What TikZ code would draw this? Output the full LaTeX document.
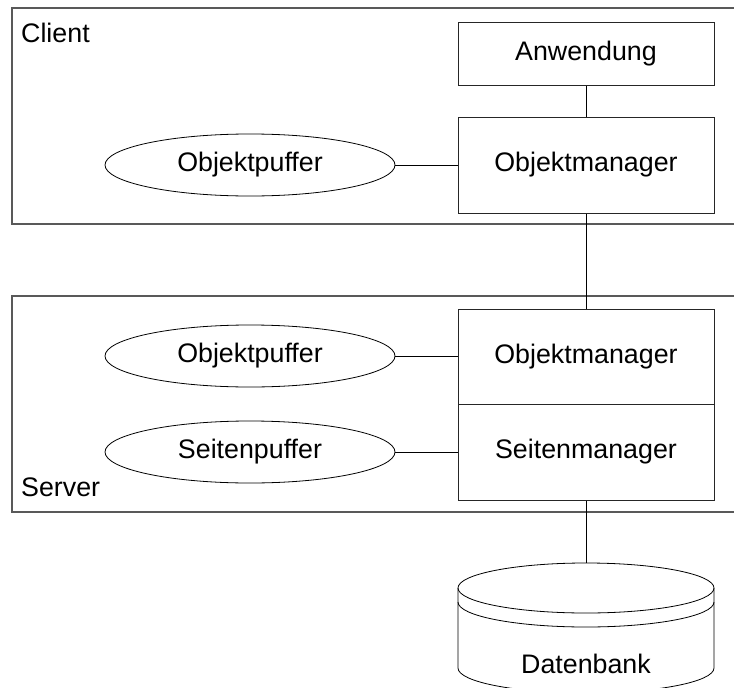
\documentclass[tikz,border=0pt]{standalone}
\usepackage{fontspec}
\setmainfont{Liberation Sans}
\usetikzlibrary{shapes.geometric}
\begin{document}
\begin{tikzpicture}[x=1pt,y=1pt,
  every node/.style={font=\fontsize{26.8}{32}\selectfont},
  outerbox/.style={draw=black!65, line width=1.1pt, rectangle, inner sep=0pt},
  mgrbox/.style={draw=black!85, line width=1pt, rectangle, minimum width=256pt, inner sep=0pt},
  buffer/.style={draw=black, line width=0.8pt, ellipse, minimum width=290pt, minimum height=62pt, inner sep=0pt},
  conn/.style={draw=black, line width=1pt},
  lbl/.style={anchor=base west, inner sep=0pt}]
\clip (0,0) rectangle (734,-688);
% outer boxes
\node[outerbox, minimum width=748pt, minimum height=216pt] (client) at (386,-116) {};
\node[outerbox, minimum width=748pt, minimum height=216pt] (server) at (386,-404) {};
\node[lbl] (clientlbl) at (21,-42) {Client};
\node[lbl] (serverlbl) at (21,-496) {Server};
% client
\node[mgrbox, minimum height=63pt] (anw) at (586,-53.5) {Anwendung};
\node[mgrbox, minimum height=96pt] (om1) at (586,-165) {Objektmanager};
\node[buffer] (ob1) at (250,-165) {Objektpuffer};
% server
\node[mgrbox, minimum height=95pt] (om2) at (586,-356.5) {Objektmanager};
\node[mgrbox, minimum height=96pt] (sm) at (586,-452) {Seitenmanager};
\node[buffer] (ob2) at (250,-356) {Objektpuffer};
\node[buffer] (sp) at (250,-452) {Seitenpuffer};
% database cylinder
\coordinate (dbtop) at (586,-563);
\draw[line width=0.8pt] (586,-588) ellipse[x radius=128pt, y radius=25pt];
\draw[line width=0.8pt] (458,-602) arc[start angle=180, end angle=360, x radius=128pt, y radius=25pt];
\draw[line width=0.8pt] (458,-588) -- (458,-668) arc[start angle=180, end angle=360, x radius=128pt, y radius=25pt] -- (714,-588);
\node[anchor=base, inner sep=0pt] (db) at (586,-673) {Datenbank};
% connectors
\draw[conn] (anw.south) -- (om1.north);
\draw[conn] (ob1.east) -- (om1.west);
\draw[conn] (om1.south) -- (om2.north);
\draw[conn] (ob2.east) -- (ob2.east -| om2.west);
\draw[conn] (sp.east) -- (sp.east -| sm.west);
\draw[conn] (sm.south) -- (dbtop);
\end{tikzpicture}
\end{document}
